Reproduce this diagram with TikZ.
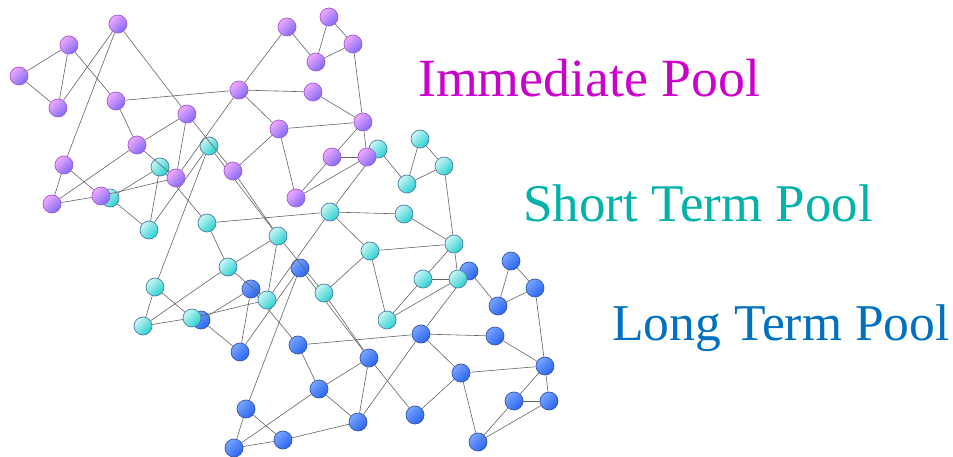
\documentclass[tikz,border=0pt]{standalone}
\usepackage{fontspec}
\setmainfont{Liberation Serif}
\definecolor{linkgray}{RGB}{100,100,100}
\definecolor{imlight}{RGB}{242,170,255}
\definecolor{imdark}{RGB}{125,105,245}
\definecolor{imline}{RGB}{160,90,215}
\definecolor{stlight}{RGB}{205,245,245}
\definecolor{stdark}{RGB}{40,208,208}
\definecolor{stline}{RGB}{70,130,165}
\definecolor{ltlight}{RGB}{120,165,255}
\definecolor{ltdark}{RGB}{40,100,240}
\definecolor{ltline}{RGB}{55,85,170}
\definecolor{imtext}{RGB}{204,0,204}
\definecolor{sttext}{RGB}{0,178,170}
\definecolor{lttext}{RGB}{0,112,192}
\begin{document}
\begin{tikzpicture}[x=1pt, y=-1pt,
  pool/.style={circle, minimum size=18pt, inner sep=0pt, line width=0.7pt},
  imnode/.style={pool, draw=imline, top color=imlight, bottom color=imdark, shading angle=45},
  stnode/.style={pool, draw=stline, top color=stlight, bottom color=stdark, shading angle=45},
  ltnode/.style={pool, draw=ltline, top color=ltlight, bottom color=ltdark, shading angle=45},
  link/.style={draw=linkgray, line width=0.6pt},
  poollabel/.style={anchor=base west, inner sep=0pt, font=\fontsize{#1}{60}\selectfont}]
\useasboundingbox (0,0) rectangle (953,457);

\node[ltnode] (lt0) at (300,268){};
\node[ltnode] (lt1) at (251,289){};
\node[ltnode] (lt2) at (201,320){};
\node[ltnode] (lt3) at (240,352){};
\node[ltnode] (lt4) at (298,345){};
\node[ltnode] (lt5) at (369,358){};
\node[ltnode] (lt6) at (319,389){};
\node[ltnode] (lt7) at (246,409){};
\node[ltnode] (lt8) at (234,448){};
\node[ltnode] (lt9) at (283,440){};
\node[ltnode] (lt10) at (358,422){};
\node[ltnode] (lt11) at (415,415){};
\node[ltnode] (lt12) at (421,334){};
\node[ltnode] (lt13) at (469,271){};
\node[ltnode] (lt14) at (511,261){};
\node[ltnode] (lt15) at (535,288){};
\node[ltnode] (lt16) at (498,306){};
\node[ltnode] (lt17) at (495,336){};
\node[ltnode] (lt18) at (461,373){};
\node[ltnode] (lt19) at (545,366){};
\node[ltnode] (lt20) at (514,401){};
\node[ltnode] (lt21) at (549,401){};
\node[ltnode] (lt22) at (478,442){};
\draw[link] (lt1) -- (lt2);
\draw[link] (lt2) -- (lt3);
\draw[link] (lt1) -- (lt3);
\draw[link] (lt0) -- (lt3);
\draw[link] (lt0) -- (lt7);
\draw[link] (lt0) -- (lt5);
\draw[link] (lt1) -- (lt4);
\draw[link] (lt4) -- (lt12);
\draw[link] (lt4) -- (lt6);
\draw[link] (lt6) -- (lt5);
\draw[link] (lt6) -- (lt8);
\draw[link] (lt6) -- (lt10);
\draw[link] (lt7) -- (lt8);
\draw[link] (lt7) -- (lt9);
\draw[link] (lt8) -- (lt9);
\draw[link] (lt5) -- (lt10);
\draw[link] (lt5) -- (lt11);
\draw[link] (lt9) -- (lt10);
\draw[link] (lt10) -- (lt12);
\draw[link] (lt12) -- (lt13);
\draw[link] (lt13) -- (lt16);
\draw[link] (lt14) -- (lt16);
\draw[link] (lt14) -- (lt15);
\draw[link] (lt15) -- (lt16);
\draw[link] (lt15) -- (lt19);
\draw[link] (lt12) -- (lt17);
\draw[link] (lt17) -- (lt19);
\draw[link] (lt12) -- (lt18);
\draw[link] (lt18) -- (lt19);
\draw[link] (lt18) -- (lt11);
\draw[link] (lt18) -- (lt22);
\draw[link] (lt19) -- (lt20);
\draw[link] (lt19) -- (lt21);
\draw[link] (lt20) -- (lt21);
\draw[link] (lt20) -- (lt22);
\draw[link] (lt21) -- (lt22);

\node[stnode] (st0) at (209,146){};
\node[stnode] (st1) at (160,167){};
\node[stnode] (st2) at (110,198){};
\node[stnode] (st3) at (149,230){};
\node[stnode] (st4) at (207,223){};
\node[stnode] (st5) at (278,236){};
\node[stnode] (st6) at (228,267){};
\node[stnode] (st7) at (155,287){};
\node[stnode] (st8) at (143,326){};
\node[stnode] (st9) at (192,318){};
\node[stnode] (st10) at (267,300){};
\node[stnode] (st11) at (324,293){};
\node[stnode] (st12) at (330,212){};
\node[stnode] (st13) at (378,149){};
\node[stnode] (st14) at (420,139){};
\node[stnode] (st15) at (444,166){};
\node[stnode] (st16) at (407,184){};
\node[stnode] (st17) at (404,214){};
\node[stnode] (st18) at (370,251){};
\node[stnode] (st19) at (454,244){};
\node[stnode] (st20) at (423,279){};
\node[stnode] (st21) at (458,279){};
\node[stnode] (st22) at (387,320){};
\draw[link] (st1) -- (st2);
\draw[link] (st2) -- (st3);
\draw[link] (st1) -- (st3);
\draw[link] (st0) -- (st3);
\draw[link] (st0) -- (st7);
\draw[link] (st0) -- (st5);
\draw[link] (st1) -- (st4);
\draw[link] (st4) -- (st12);
\draw[link] (st4) -- (st6);
\draw[link] (st6) -- (st5);
\draw[link] (st6) -- (st8);
\draw[link] (st6) -- (st10);
\draw[link] (st7) -- (st8);
\draw[link] (st7) -- (st9);
\draw[link] (st8) -- (st9);
\draw[link] (st5) -- (st10);
\draw[link] (st5) -- (st11);
\draw[link] (st9) -- (st10);
\draw[link] (st10) -- (st12);
\draw[link] (st12) -- (st13);
\draw[link] (st13) -- (st16);
\draw[link] (st14) -- (st16);
\draw[link] (st14) -- (st15);
\draw[link] (st15) -- (st16);
\draw[link] (st15) -- (st19);
\draw[link] (st12) -- (st17);
\draw[link] (st17) -- (st19);
\draw[link] (st12) -- (st18);
\draw[link] (st18) -- (st19);
\draw[link] (st18) -- (st11);
\draw[link] (st18) -- (st22);
\draw[link] (st19) -- (st20);
\draw[link] (st19) -- (st21);
\draw[link] (st20) -- (st21);
\draw[link] (st20) -- (st22);
\draw[link] (st21) -- (st22);
\draw[link] (st11) -- (lt5);

\node[imnode] (im0) at (118,24){};
\node[imnode] (im1) at (69,45){};
\node[imnode] (im2) at (19,76){};
\node[imnode] (im3) at (58,108){};
\node[imnode] (im4) at (116,101){};
\node[imnode] (im5) at (187,114){};
\node[imnode] (im6) at (137,145){};
\node[imnode] (im7) at (64,165){};
\node[imnode] (im8) at (52,204){};
\node[imnode] (im9) at (101,196){};
\node[imnode] (im10) at (176,178){};
\node[imnode] (im11) at (233,171){};
\node[imnode] (im12) at (239,90){};
\node[imnode] (im13) at (287,27){};
\node[imnode] (im14) at (329,17){};
\node[imnode] (im15) at (353,44){};
\node[imnode] (im16) at (316,62){};
\node[imnode] (im17) at (313,92){};
\node[imnode] (im18) at (279,129){};
\node[imnode] (im19) at (363,122){};
\node[imnode] (im20) at (332,157){};
\node[imnode] (im21) at (367,157){};
\node[imnode] (im22) at (296,198){};
\draw[link] (im1) -- (im2);
\draw[link] (im2) -- (im3);
\draw[link] (im1) -- (im3);
\draw[link] (im0) -- (im3);
\draw[link] (im0) -- (im7);
\draw[link] (im0) -- (im5);
\draw[link] (im1) -- (im4);
\draw[link] (im4) -- (im12);
\draw[link] (im4) -- (im6);
\draw[link] (im6) -- (im5);
\draw[link] (im6) -- (im8);
\draw[link] (im6) -- (im10);
\draw[link] (im7) -- (im8);
\draw[link] (im7) -- (im9);
\draw[link] (im8) -- (im9);
\draw[link] (im5) -- (im10);
\draw[link] (im5) -- (im11);
\draw[link] (im9) -- (im10);
\draw[link] (im10) -- (im12);
\draw[link] (im12) -- (im13);
\draw[link] (im13) -- (im16);
\draw[link] (im14) -- (im16);
\draw[link] (im14) -- (im15);
\draw[link] (im15) -- (im16);
\draw[link] (im15) -- (im19);
\draw[link] (im12) -- (im17);
\draw[link] (im17) -- (im19);
\draw[link] (im12) -- (im18);
\draw[link] (im18) -- (im19);
\draw[link] (im18) -- (im11);
\draw[link] (im18) -- (im22);
\draw[link] (im19) -- (im20);
\draw[link] (im19) -- (im21);
\draw[link] (im20) -- (im21);
\draw[link] (im20) -- (im22);
\draw[link] (im21) -- (im22);
\draw[link] (im11) -- (st5);

\node[poollabel=53.8, text=imtext] (imlabel) at (418,97) {Immediate Pool};
\node[poollabel=53, text=sttext] (stlabel) at (523,222) {Short Term Pool};
\node[poollabel=51.6, text=lttext] (ltlabel) at (612,340) {Long Term Pool};
\end{tikzpicture}
\end{document}
